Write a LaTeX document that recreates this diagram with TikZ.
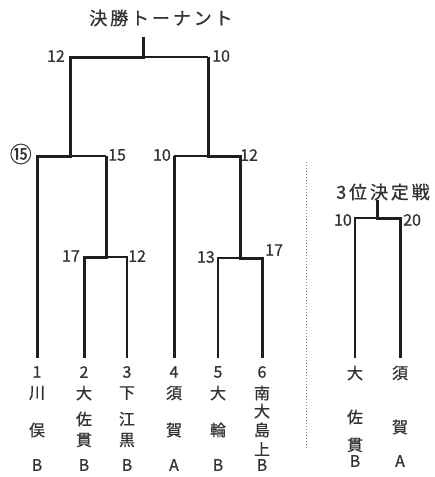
\documentclass[tikz,border=0pt]{standalone}
\usepackage{fontspec}
\setmainfont[FakeBold=0.8]{Noto Sans CJK JP}
\newfontfamily\jpwide[LetterSpace=16, FakeBold=0.8]{Noto Sans CJK JP}
\usepackage{tikz}
\definecolor{ink}{HTML}{1E1E1E}
\definecolor{txt}{HTML}{333333}

\begin{document}
\begin{tikzpicture}[x=1pt, y=-1pt, font=\fontsize{16}{16}\selectfont,
  win/.style={draw=ink, line width=3pt},
  lose/.style={draw=ink, line width=1.2pt},
  sep/.style={draw=ink!55, dotted, line width=1pt},
  sc/.style={text=txt, inner sep=1pt},
  tm/.style={text=txt, inner sep=0pt},
  ttl/.style={text=txt, font=\jpwide\fontsize{18}{18}\selectfont}]
\useasboundingbox (0,0) rectangle (435,477);
% team feet and match points
\foreach \n/\x in {1/37, 2/84, 3/127, 4/174, 5/218, 6/262}
  \coordinate (t\n) at (\x,358);
\coordinate (q1) at (106,257);
\coordinate (q2) at (240,258);
\coordinate (s1) at (70,156);
\coordinate (s2) at (208,156);
\coordinate (f) at (143,57);
\coordinate (ftop) at (143,37);
\coordinate (u1) at (355,358);
\coordinate (u2) at (400,358);
\coordinate (m3) at (377,218);
\coordinate (m3top) at (377,200);
\coordinate (sepa) at (306,162);
\coordinate (sepb) at (306,448);

\node[ttl] (title) at (161,18) {決勝トーナント};
\node[ttl] (title3) at (383,192) {3位決定戦};

% bracket
\draw[win] (t1) |- (s1) |- (f) -- (ftop);
\draw[lose] (s1) -- (q1 |- s1);
\draw[win] (t2) |- (q1) -- (q1 |- s1);
\draw[lose] (t3) |- (q1);
\draw[win] (t4) -- (t4 |- s2);
\draw[lose] (t4 |- s2) -- (s2);
\draw[win] (t6) |- (q2) |- (s2) -- (s2 |- f);
\draw[lose] (t5) |- (q2);
\draw[lose] (s2 |- f) -- (f);
\draw[lose] (u1) |- (m3);
\draw[win] (u2) |- (m3) -- (m3top);
\draw[sep] (sepa) -- (sepb);

% scores
\node[sc, anchor=east] (fl) at (66,56) {12};
\node[sc, anchor=west] (fr) at (211,56) {10};
\node[sc, anchor=east, font=\fontsize{22}{22}\selectfont] (s1l) at (33,154) {⑮};
\node[sc, anchor=west] (s1r) at (107,155) {15};
\node[sc, anchor=east] (s2l) at (172,155) {10};
\node[sc, anchor=west] (s2r) at (239,155) {12};
\node[sc, anchor=east] (q1l) at (81,256) {17};
\node[sc, anchor=west] (q1r) at (127,256) {12};
\node[sc, anchor=east] (q2l) at (216,257) {13};
\node[sc, anchor=west] (q2r) at (264,250) {17};
\node[sc, anchor=east] (m3l) at (353,220) {10};
\node[sc, anchor=west] (m3r) at (402,220) {20};

% teams
\foreach \x/\n/\r in {37/1/B, 84/2/B, 127/3/B, 174/4/A, 218/5/B, 262/6/B} {
  \node[tm] (no\n) at (\x,372) {\n};
  \node[tm] (rk\n) at (\x,465) {\r};
}
\node[tm] (rk7) at (355,461) {B};
\node[tm] (rk8) at (400,461) {A};
\foreach \x/\y/\c [count=\i] in {37/393/川, 37/430/俣, 84/393/大, 84/419/佐, 84/440/貫,
    127/393/下, 127/419/江, 127/440/黒, 174/393/須, 174/430/賀, 218/393/大, 218/430/輪,
    262/393/南, 262/411/大, 262/430/島, 262/449/上,
    355/373/大, 355/417/佐, 355/445/貫, 400/373/須, 400/427/賀}
  \node[tm] (ch\i) at (\x,\y) {\c};
\end{tikzpicture}
\end{document}
